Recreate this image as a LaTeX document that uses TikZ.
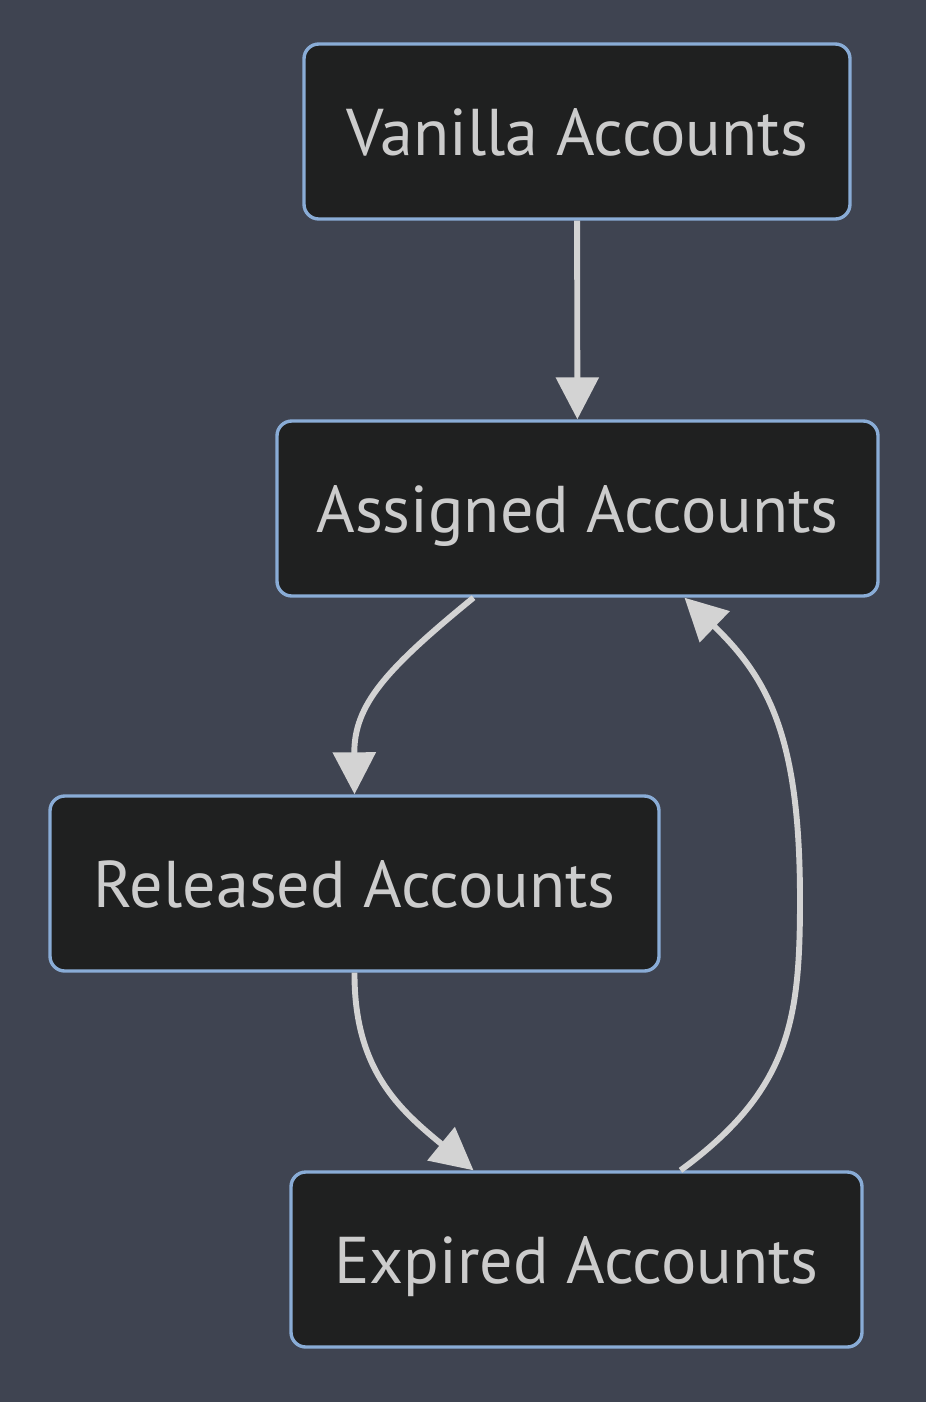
\documentclass[tikz,border=0pt]{standalone}
\usepackage{fontspec}
\setmainfont{PT Sans}
\usetikzlibrary{arrows.meta, positioning, calc}
\definecolor{bgcol}{RGB}{63,68,81}
\definecolor{boxfill}{RGB}{31,32,32}
\definecolor{boxline}{RGB}{137,172,214}
\definecolor{txtcol}{RGB}{204,204,204}
\definecolor{linkcol}{RGB}{211,211,211}

\begin{document}
\begin{tikzpicture}[x=0.025cm, y=-0.025cm,
    account/.style = {rectangle, draw=boxline, fill=boxfill, line width=2.4pt, rounded corners=0.37cm, align=center, text=txtcol, font=\fontsize{47}{56}\selectfont, text height=1.5cm, text depth=0.32cm, minimum height=175*0.025cm, inner sep=0pt},
    link/.style = {draw=linkcol, line width=4.2pt, -{Triangle[length=1.05cm, width=1.05cm]}}
]
\fill[bgcol] (0,0) rectangle (926,1402);
\useasboundingbox (0,0) rectangle (926,1402);

\node (vanilla) [account, minimum width=546*0.025cm] at (577,131.5) {Vanilla Accounts};
\node (assigned) [account, minimum width=601*0.025cm] at (577.5,508.5) {Assigned Accounts};
\node (released) [account, minimum width=609*0.025cm] at (354.5,883.5) {Released Accounts};
\node (expired) [account, minimum width=571*0.025cm] at (576.5,1259.5) {Expired Accounts};

\draw [link] (vanilla) -- (assigned);
\draw [link] ($(assigned.south)+(-104,0)$) .. controls (385,670) and (354,705) .. (released.north);
\draw [link] (released.south) .. controls (354,1070) and (400,1110) .. ($(expired.north)+(-103,0)$);
\draw [link] ($(expired.north)+(104,0)$) .. controls (790,1090) and (800,1020) .. (800,900)
    .. controls (800,740) and (770,680) .. ($(assigned.south)+(107,0)$);
\end{tikzpicture}
\end{document}
